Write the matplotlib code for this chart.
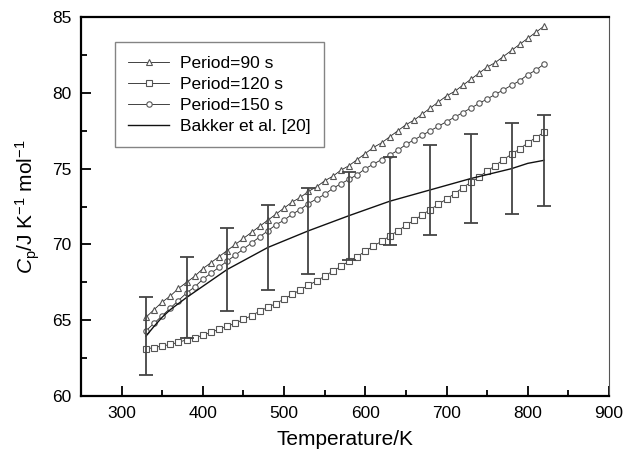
import numpy as np
import matplotlib
matplotlib.use("Agg")
import matplotlib.pyplot as plt
from matplotlib.ticker import MultipleLocator

plt.rcParams['font.family'] = ['Liberation Sans', 'DejaVu Sans']
plt.rcParams['mathtext.fontset'] = 'custom'
plt.rcParams['mathtext.rm'] = 'Liberation Sans'
plt.rcParams['mathtext.it'] = 'Liberation Sans:italic'

# temperatures of the measured points (K)
temp = [330, 340, 350, 360, 370, 380, 390, 400, 410, 420,
        430, 440, 450, 460, 470, 480, 490, 500, 510, 520,
        530, 540, 550, 560, 570, 580, 590, 600, 610, 620,
        630, 640, 650, 660, 670, 680, 690, 700, 710, 720,
        730, 740, 750, 760, 770, 780, 790, 800, 810, 820]

cp_90 = [65.2, 65.7, 66.2, 66.6, 67.1, 67.5, 67.9, 68.4, 68.8, 69.2,
         69.6, 70.0, 70.4, 70.8, 71.2, 71.6, 72.0, 72.4, 72.8, 73.1,
         73.5, 73.8, 74.2, 74.5, 74.9, 75.2, 75.6, 76.0, 76.4, 76.7,
         77.1, 77.5, 77.9, 78.2, 78.6, 79.0, 79.4, 79.8, 80.1, 80.5,
         80.9, 81.3, 81.7, 82.0, 82.4, 82.8, 83.2, 83.6, 84.0, 84.4]

cp_120 = [63.1, 63.2, 63.3, 63.4, 63.55, 63.7, 63.85, 64.0, 64.2, 64.4,
          64.6, 64.8, 65.05, 65.3, 65.6, 65.85, 66.1, 66.4, 66.7, 67.0,
          67.3, 67.6, 67.9, 68.25, 68.55, 68.9, 69.2, 69.55, 69.9, 70.2,
          70.55, 70.9, 71.25, 71.6, 71.95, 72.3, 72.65, 73.0, 73.35, 73.75,
          74.1, 74.45, 74.85, 75.2, 75.6, 75.95, 76.3, 76.7, 77.05, 77.4]

cp_150 = [64.3, 64.8, 65.3, 65.8, 66.3, 66.8, 67.2, 67.7, 68.1, 68.5,
          68.9, 69.3, 69.7, 70.1, 70.5, 70.9, 71.3, 71.6, 72.0, 72.3,
          72.7, 73.0, 73.3, 73.7, 74.0, 74.3, 74.6, 75.0, 75.3, 75.6,
          75.9, 76.2, 76.6, 76.9, 77.2, 77.5, 77.8, 78.1, 78.4, 78.7,
          79.0, 79.3, 79.6, 79.9, 80.2, 80.5, 80.8, 81.2, 81.5, 81.9]

# literature curve with its uncertainty
bakker_t = [330, 340, 350, 360, 380, 430, 480, 530, 580, 630, 680, 730, 780, 800, 820]
bakker_cp = [63.95, 64.6, 65.2, 65.7, 66.5, 68.35, 69.8, 70.9, 71.9, 72.85,
             73.6, 74.35, 75.0, 75.35, 75.55]
err_t = [330, 380, 430, 480, 530, 580, 630, 680, 730, 780, 820]
err_cp = [63.95, 66.5, 68.35, 69.8, 70.9, 71.9, 72.85, 73.6, 74.35, 75.0, 75.55]
err_size = [2.55, 2.65, 2.75, 2.8, 2.85, 2.9, 2.9, 2.95, 2.95, 3.0, 3.0]

fig = plt.figure(figsize=(6.23, 4.5), dpi=100)
ax = fig.add_axes([0.130, 0.12, 0.8475, 0.842])

mk = dict(color='#222222', lw=0.6, mfc='white', mec='#555555', mew=0.8)
ax.plot(temp, cp_90, marker='^', ms=4.8, label='Period=90 s', **mk)
ax.plot(temp, cp_120, marker='s', ms=3.7, label='Period=120 s', **mk)
ax.plot(temp, cp_150, marker='o', ms=3.9, label='Period=150 s', **mk)
ax.plot(bakker_t, bakker_cp, color='#111111', lw=1.0, label='Bakker et al. [20]')
ax.errorbar(err_t, err_cp, yerr=err_size, fmt='none', ecolor='#444444',
            elinewidth=1.3, capsize=5, capthick=1.3)

ax.set_xlim(250, 900)
ax.set_ylim(60, 85)
ax.xaxis.set_major_locator(MultipleLocator(100))
ax.xaxis.set_minor_locator(MultipleLocator(50))
ax.yaxis.set_major_locator(MultipleLocator(5))
ax.yaxis.set_minor_locator(MultipleLocator(2.5))
ax.tick_params(which='both', direction='in', labelsize=12.5, width=1.3)
ax.tick_params(which='major', length=7, pad=7)
ax.tick_params(which='minor', length=4)

for side in ['left', 'bottom', 'top']:
    ax.spines[side].set_linewidth(1.6)
ax.spines['right'].set_linewidth(0.8)
ax.spines['right'].set_color('#555555')

ax.set_xlabel('Temperature/K', fontsize=15, labelpad=7)
ax.set_ylabel(r'$C_{\mathrm{p}}$/J K$^{-1}$ mol$^{-1}$', fontsize=15, labelpad=7)

leg = ax.legend(loc='upper left', bbox_to_anchor=(0.064, 0.933), fontsize=12.5,
                frameon=True, fancybox=False, edgecolor='#666666',
                handlelength=2.4, handletextpad=0.6, labelspacing=0.35,
                borderpad=0.75, borderaxespad=0)
leg.get_frame().set_linewidth(1.0)

fig.savefig('out.png', dpi=100)
